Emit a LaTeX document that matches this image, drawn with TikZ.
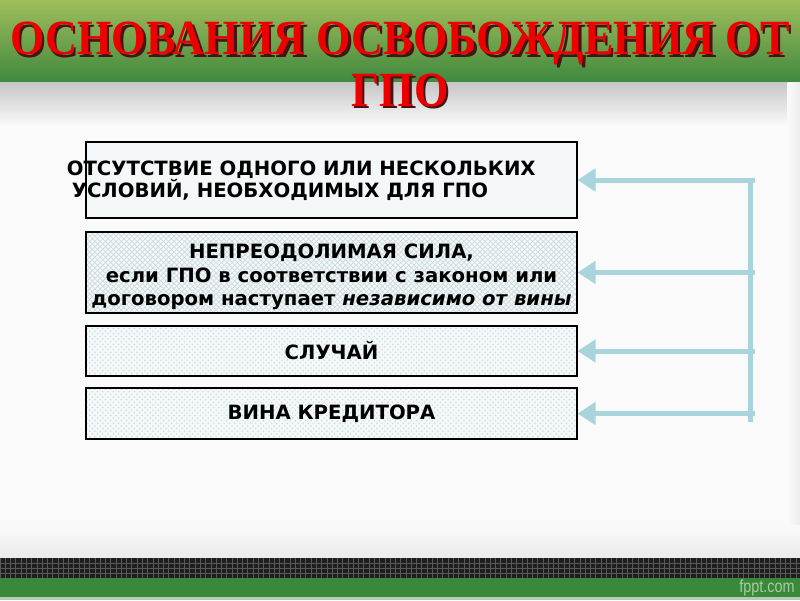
\documentclass[tikz,border=0pt]{standalone}
\usepackage{fontspec}
\setmainfont{DejaVu Sans}
\newfontfamily\titlefont{Liberation Serif}
\newfontfamily\sitefont{Liberation Sans}
\usetikzlibrary{calc, patterns, arrows.meta, positioning, backgrounds}
\definecolor{bandtop}{RGB}{160,190,92}
\definecolor{bandbottom}{RGB}{62,136,62}
\definecolor{titlered}{RGB}{236,0,0}
\definecolor{titleshade}{RGB}{70,20,20}
\definecolor{arrowblue}{RGB}{168,212,220}
\definecolor{boxlight}{RGB}{244,248,248}
\definecolor{boxhatch}{RGB}{205,220,224}
\definecolor{footgreen}{RGB}{58,136,58}
\definecolor{sitegreen}{RGB}{165,205,165}
\tikzset{
    titlenode/.style = {draw=none, fill=none, rectangle, inner sep=0em, align=center, 
      font=\titlefont\bfseries\fontsize{28}{29.5}\selectfont},
    boxnode/.style = {draw, rectangle, line width=0.6pt, minimum width=9.82cm, inner sep=0em, 
      node distance=0em, fill=boxlight, align=center, font=\bfseries\fontsize{11.2}{13.6}\selectfont},
    hatchbox/.style = {boxnode, preaction={fill=boxlight}, pattern=crosshatch, pattern color=boxhatch},
    dotbox/.style = {boxnode, preaction={fill=boxlight}, pattern=crosshatch dots, pattern color=boxhatch},
    textnode/.style = {draw=none, fill=none, rectangle, inner sep=0em, node distance=0em, 
      font=\bfseries\fontsize{11.2}{12.6}\selectfont},
    busline/.style = {arrowblue, line width=0.1cm},
    connect/.style = {arrowblue, line width=0.1cm, -{Triangle[length=0.36cm, width=0.44cm]}}
}

\begin{document}
\begin{tikzpicture}
\useasboundingbox (0,0) rectangle (16,12);
\fill[white!98!black] (0,0) rectangle (16,12);
\shade[top color=bandtop, bottom color=bandbottom] (0,10.34) rectangle (16,12);
\shade[top color=black!22, bottom color=white!98!black] (0,9.5) rectangle (16,10.34);
\shade[left color=white!98!black, right color=black!7] (15.75,0.84) rectangle (16,10.34);
\shade[top color=white!98!black, bottom color=black!8] (0,0.84) rectangle (16,1.5);
\fill[black!88] (0,0.44) rectangle (16,0.84);
\fill[pattern=grid, pattern color=black!65] (0,0.44) rectangle (16,0.84);
\fill[footgreen] (0,0.06) rectangle (16,0.44);
\fill[footgreen!40!white] (0,0) rectangle (16,0.06);

\node [titlenode, name = titleshadow, text = titleshade] at (8.05,10.66) 
	{\scalebox{0.9}[1]{ОСНОВАНИЯ ОСВОБОЖДЕНИЯ ОТ}\\ \scalebox{0.9}[1]{ГПО}};
\node [titlenode, name = title, text = titlered] at (8,10.71) 
	{\scalebox{0.9}[1]{ОСНОВАНИЯ ОСВОБОЖДЕНИЯ ОТ}\\ \scalebox{0.9}[1]{ГПО}};

\node [boxnode, name = absence, minimum height=1.52cm] at (6.63,8.4) {};
\node [textnode, name = absencetext, anchor=west, align=left] at ($(absence.west)+(-0.38,-0.01)$) 
	{ОТСУТСТВИЕ ОДНОГО ИЛИ НЕСКОЛЬКИХ\\ \hspace*{0.1cm}УСЛОВИЙ, НЕОБХОДИМЫХ ДЛЯ ГПО};

\node [hatchbox, name = force, below of = absence, yshift=-1.85cm, minimum height=1.62cm] {};
\node [textnode, name = forcetext, below of = force, yshift=-0.09cm, align=center, 
	font=\bfseries\fontsize{11.2}{13.4}\selectfont] 
	{НЕПРЕОДОЛИМАЯ СИЛА,\\ если ГПО в соответствии с законом или\\ 
	договором наступает \textit{независимо от вины}};

\node [dotbox, name = chance, below of = force, yshift=-1.57cm, minimum height=1.0cm] {СЛУЧАЙ};

\node [dotbox, name = creditor, below of = chance, yshift=-1.25cm, minimum height=1.02cm] 
	{ВИНА КРЕДИТОРА};

\coordinate (bustop) at (15.0,8.44);
\coordinate (busbottom) at (15.0,3.56);
\coordinate (busright) at (15.1,8.44);
\draw[busline] (bustop) -- (busbottom);
\draw[connect] (busright |- absence.east) -- (absence.east);
\draw[connect] (busright |- force.east) -- (force.east);
\draw[connect] (busright |- chance.east) -- (chance.east);
\draw[connect] (busright |- creditor.east) -- (creditor.east);

\node [name = site, anchor=east, inner sep=0em, text=sitegreen, 
	font=\sitefont\fontsize{10}{12}\selectfont] at (15.9,0.24) {\scalebox{0.82}[1]{fppt.com}};
\end{tikzpicture}
\end{document}
